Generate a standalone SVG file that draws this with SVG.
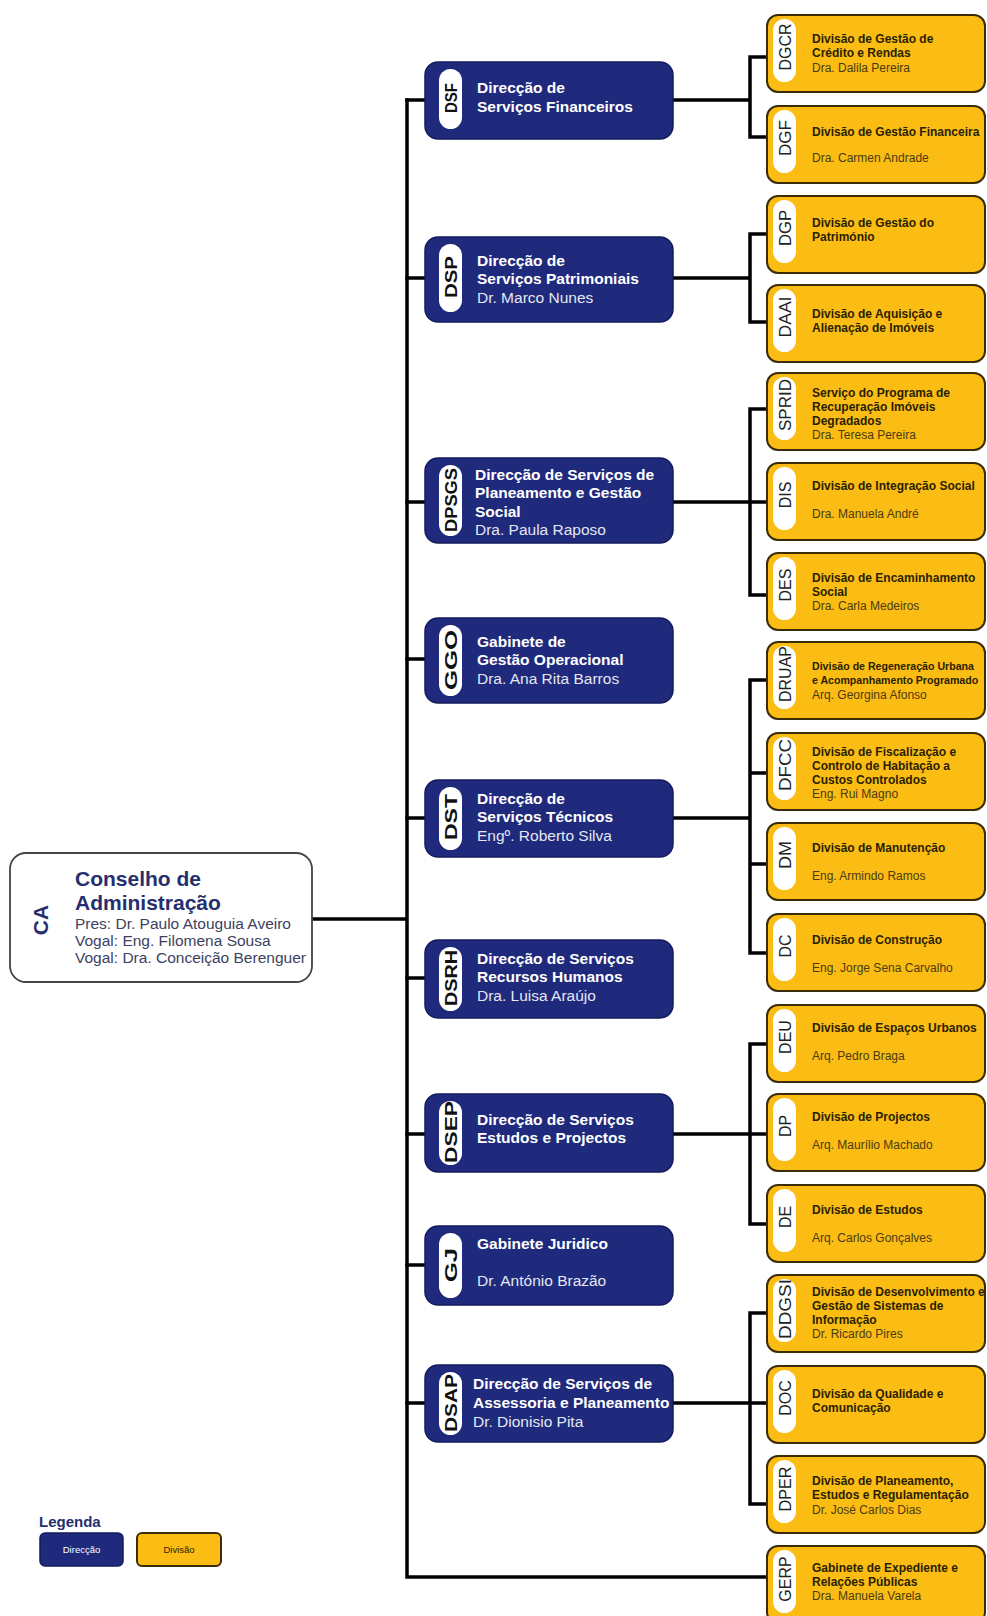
<svg xmlns="http://www.w3.org/2000/svg" width="987" height="1616" viewBox="0 0 987 1616">
<style>
.conn{stroke:#000;stroke-width:3.5;fill:none;stroke-linejoin:miter;stroke-linecap:square}
.blue{fill:#1f2a7c;stroke:#141b5c;stroke-width:1.5}
.yel{fill:#fbbc14;stroke:#3a2c08;stroke-width:2}
.pill{fill:#fff}
.bt{font-family:"Liberation Sans",Arial,sans-serif;font-weight:bold;font-size:15.5px;fill:#fff}
.bn{font-family:"Liberation Sans",Arial,sans-serif;font-size:15.5px;fill:#e4e6f2}
.bl{font-family:"Liberation Sans",Arial,sans-serif;font-weight:bold;font-size:16px;fill:#111;text-anchor:middle}
.yt{font-family:"Liberation Sans",Arial,sans-serif;font-weight:bold;font-size:12px;fill:#2a1f00}
.yn{font-family:"Liberation Sans",Arial,sans-serif;font-size:12px;fill:#4a3b10}
.yl{font-family:"Liberation Sans",Arial,sans-serif;font-size:16px;fill:#222;text-anchor:middle}
.cat{font-family:"Liberation Sans",Arial,sans-serif;font-weight:bold;font-size:21px;fill:#262f6e}
.can{font-family:"Liberation Sans",Arial,sans-serif;font-size:15.5px;fill:#3d4260}
</style>
<rect width="987" height="1616" fill="#fff"/>

<g id="connectors">
<path class="conn" d="M312 919H407M407 100V1577H767"/>
<path class="conn" d="M407 100H425M407 278H425M407 502H425M407 659H425M407 818H425M407 978H425M407 1134H425M407 1265H425M407 1403H425"/>
<path class="conn" d="M673 100H750M767 57H750V137H767"/>
<path class="conn" d="M673 278H750M767 234H750V322H767"/>
<path class="conn" d="M673 502H767M767 409H750V595H767"/>
<path class="conn" d="M673 818H750M767 680H750V953H767M750 773H767M750 864H767"/>
<path class="conn" d="M673 1134H767M767 1044H750V1224H767"/>
<path class="conn" d="M673 1403H767M767 1313H750V1504H767"/>
</g>

<g id="CA">
<rect x="10" y="853" width="302" height="129" rx="16" fill="#fff" stroke="#444" stroke-width="1.8"/>
<text class="cat" transform="translate(41,920) rotate(-90)" text-anchor="middle" dy="0.35em" style="font-size:21px">CA</text>
<text class="cat" x="75" y="886">Conselho de</text>
<text class="cat" x="75" y="910">Administração</text>
<text class="can" x="75" y="929">Pres: Dr. Paulo Atouguia Aveiro</text>
<text class="can" x="75" y="946">Vogal: Eng. Filomena Sousa</text>
<text class="can" x="75" y="963">Vogal: Dra. Conceição Berenguer</text>
</g>

<g id="DSF">
<rect class="blue" x="425" y="62" width="248" height="77" rx="13"/>
<rect class="pill" x="439" y="69" width="23" height="60" rx="11.5"/>
<text class="bl" transform="translate(451,98) rotate(-90)" dy="0.35em" textLength="30" lengthAdjust="spacingAndGlyphs">DSF</text>
<text class="bt" x="477" y="93">Direcção de</text>
<text class="bt" x="477" y="112">Serviços Financeiros</text>
</g>

<g id="DSP">
<rect class="blue" x="425" y="237" width="248" height="85" rx="13"/>
<rect class="pill" x="439" y="244" width="23" height="68" rx="11.5"/>
<text class="bl" transform="translate(451,277) rotate(-90)" dy="0.35em" textLength="42" lengthAdjust="spacingAndGlyphs">DSP</text>
<text class="bt" x="477" y="266">Direcção de</text>
<text class="bt" x="477" y="284">Serviços Patrimoniais</text>
<text class="bn" x="477" y="303">Dr. Marco Nunes</text>
</g>

<g id="DPSGS">
<rect class="blue" x="425" y="458" width="248" height="85" rx="13"/>
<rect class="pill" x="439" y="465" width="23" height="71" rx="11.5"/>
<text class="bl" transform="translate(451,500) rotate(-90)" dy="0.35em" textLength="64" lengthAdjust="spacingAndGlyphs">DPSGS</text>
<text class="bt" x="475" y="480">Direcção de Serviços de</text>
<text class="bt" x="475" y="498">Planeamento e Gestão</text>
<text class="bt" x="475" y="517">Social</text>
<text class="bn" x="475" y="535">Dra. Paula Raposo</text>
</g>

<g id="GGO">
<rect class="blue" x="425" y="618" width="248" height="85" rx="13"/>
<rect class="pill" x="439" y="625" width="23" height="71" rx="11.5"/>
<text class="bl" transform="translate(451,660) rotate(-90)" dy="0.35em" textLength="60" lengthAdjust="spacingAndGlyphs">GGO</text>
<text class="bt" x="477" y="647">Gabinete de</text>
<text class="bt" x="477" y="665">Gestão Operacional</text>
<text class="bn" x="477" y="684">Dra. Ana Rita Barros</text>
</g>

<g id="DST">
<rect class="blue" x="425" y="780" width="248" height="77" rx="13"/>
<rect class="pill" x="439" y="787" width="23" height="63" rx="11.5"/>
<text class="bl" transform="translate(451,817) rotate(-90)" dy="0.35em" textLength="46" lengthAdjust="spacingAndGlyphs">DST</text>
<text class="bt" x="477" y="804">Direcção de</text>
<text class="bt" x="477" y="822">Serviços Técnicos</text>
<text class="bn" x="477" y="841">Engº. Roberto Silva</text>
</g>

<g id="DSRH">
<rect class="blue" x="425" y="940" width="248" height="78" rx="13"/>
<rect class="pill" x="439" y="947" width="23" height="64" rx="11.5"/>
<text class="bl" transform="translate(451,978) rotate(-90)" dy="0.35em" textLength="56" lengthAdjust="spacingAndGlyphs">DSRH</text>
<text class="bt" x="477" y="964">Direcção de Serviços</text>
<text class="bt" x="477" y="982">Recursos Humanos</text>
<text class="bn" x="477" y="1001">Dra. Luisa Araújo</text>
</g>

<g id="DSEP">
<rect class="blue" x="425" y="1094" width="248" height="78" rx="13"/>
<rect class="pill" x="439" y="1101" width="23" height="64" rx="11.5"/>
<text class="bl" transform="translate(451,1132) rotate(-90)" dy="0.35em" textLength="62" lengthAdjust="spacingAndGlyphs">DSEP</text>
<text class="bt" x="477" y="1125">Direcção de Serviços</text>
<text class="bt" x="477" y="1143">Estudos e Projectos</text>
</g>

<g id="GJ">
<rect class="blue" x="425" y="1226" width="248" height="79" rx="13"/>
<rect class="pill" x="439" y="1233" width="23" height="65" rx="11.5"/>
<text class="bl" transform="translate(451,1265) rotate(-90)" dy="0.35em" textLength="34" lengthAdjust="spacingAndGlyphs">GJ</text>
<text class="bt" x="477" y="1249">Gabinete Juridico</text>
<text class="bn" x="477" y="1286">Dr. António Brazão</text>
</g>

<g id="DSAP">
<rect class="blue" x="425" y="1365" width="248" height="77" rx="13"/>
<rect class="pill" x="439" y="1372" width="23" height="63" rx="11.5"/>
<text class="bl" transform="translate(451,1403) rotate(-90)" dy="0.35em" textLength="58" lengthAdjust="spacingAndGlyphs">DSAP</text>
<text class="bt" x="473" y="1389">Direcção de Serviços de</text>
<text class="bt" x="473" y="1408">Assessoria e Planeamento</text>
<text class="bn" x="473" y="1427">Dr. Dionisio Pita</text>
</g>

<g id="DGCR">
<rect class="yel" x="767" y="15" width="218" height="77" rx="11"/>
<rect class="pill" x="773" y="19" width="23" height="63" rx="11.5"/>
<text class="yl" transform="translate(785,47) rotate(-90)" dy="0.35em">DGCR</text>
<text class="yt" x="812" y="43">Divisão de Gestão de</text>
<text class="yt" x="812" y="57">Crédito e Rendas</text>
<text class="yn" x="812" y="72">Dra. Dalila Pereira</text>
</g>

<g id="DGF">
<rect class="yel" x="767" y="106" width="218" height="77" rx="11"/>
<rect class="pill" x="773" y="110" width="23" height="63" rx="11.5"/>
<text class="yl" transform="translate(785,138) rotate(-90)" dy="0.35em" textLength="36" lengthAdjust="spacingAndGlyphs">DGF</text>
<text class="yt" x="812" y="136">Divisão de Gestão Financeira</text>
<text class="yn" x="812" y="162">Dra. Carmen Andrade</text>
</g>

<g id="DGP">
<rect class="yel" x="767" y="196" width="218" height="77" rx="11"/>
<rect class="pill" x="773" y="200" width="23" height="63" rx="11.5"/>
<text class="yl" transform="translate(785,228) rotate(-90)" dy="0.35em" textLength="36" lengthAdjust="spacingAndGlyphs">DGP</text>
<text class="yt" x="812" y="227">Divisão de Gestão do</text>
<text class="yt" x="812" y="241">Património</text>
</g>

<g id="DAAI">
<rect class="yel" x="767" y="285" width="218" height="77" rx="11"/>
<rect class="pill" x="773" y="289" width="23" height="63" rx="11.5"/>
<text class="yl" transform="translate(785,317) rotate(-90)" dy="0.35em" textLength="41" lengthAdjust="spacingAndGlyphs">DAAI</text>
<text class="yt" x="812" y="318">Divisão de Aquisição e</text>
<text class="yt" x="812" y="332">Alienação de Imóveis</text>
</g>

<g id="SPRID">
<rect class="yel" x="767" y="373" width="218" height="77" rx="11"/>
<rect class="pill" x="773" y="377" width="23" height="63" rx="11.5"/>
<text class="yl" transform="translate(785,405) rotate(-90)" dy="0.35em" textLength="52" lengthAdjust="spacingAndGlyphs">SPRID</text>
<text class="yt" x="812" y="397">Serviço do Programa de</text>
<text class="yt" x="812" y="411">Recuperação Imóveis</text>
<text class="yt" x="812" y="425">Degradados</text>
<text class="yn" x="812" y="439">Dra. Teresa Pereira</text>
</g>

<g id="DIS">
<rect class="yel" x="767" y="463" width="218" height="77" rx="11"/>
<rect class="pill" x="773" y="467" width="23" height="63" rx="11.5"/>
<text class="yl" transform="translate(785,495) rotate(-90)" dy="0.35em">DIS</text>
<text class="yt" x="812" y="490">Divisão de Integração Social</text>
<text class="yn" x="812" y="518">Dra. Manuela André</text>
</g>

<g id="DES">
<rect class="yel" x="767" y="553" width="218" height="77" rx="11"/>
<rect class="pill" x="773" y="557" width="23" height="63" rx="11.5"/>
<text class="yl" transform="translate(785,585) rotate(-90)" dy="0.35em">DES</text>
<text class="yt" x="812" y="582">Divisão de Encaminhamento</text>
<text class="yt" x="812" y="596">Social</text>
<text class="yn" x="812" y="610">Dra. Carla Medeiros</text>
</g>

<g id="DRUAP">
<rect class="yel" x="767" y="642" width="218" height="77" rx="11"/>
<rect class="pill" x="773" y="646" width="23" height="63" rx="11.5"/>
<text class="yl" transform="translate(785,674) rotate(-90)" dy="0.35em" textLength="56" lengthAdjust="spacingAndGlyphs">DRUAP</text>
<text class="yt" x="812" y="670" style="font-size:10.6px">Divisão de Regeneração Urbana</text>
<text class="yt" x="812" y="684" style="font-size:10.6px">e Acompanhamento Programado</text>
<text class="yn" x="812" y="699">Arq. Georgina Afonso</text>
</g>

<g id="DFCC">
<rect class="yel" x="767" y="733" width="218" height="77" rx="11"/>
<rect class="pill" x="773" y="737" width="23" height="63" rx="11.5"/>
<text class="yl" transform="translate(785,765) rotate(-90)" dy="0.35em" textLength="52" lengthAdjust="spacingAndGlyphs">DFCC</text>
<text class="yt" x="812" y="756">Divisão de Fiscalização e</text>
<text class="yt" x="812" y="770">Controlo de Habitação a</text>
<text class="yt" x="812" y="784">Custos Controlados</text>
<text class="yn" x="812" y="798">Eng. Rui Magno</text>
</g>

<g id="DM">
<rect class="yel" x="767" y="823" width="218" height="77" rx="11"/>
<rect class="pill" x="773" y="827" width="23" height="63" rx="11.5"/>
<text class="yl" transform="translate(785,855) rotate(-90)" dy="0.35em" textLength="28" lengthAdjust="spacingAndGlyphs">DM</text>
<text class="yt" x="812" y="852">Divisão de Manutenção</text>
<text class="yn" x="812" y="880">Eng. Armindo Ramos</text>
</g>

<g id="DC">
<rect class="yel" x="767" y="914" width="218" height="77" rx="11"/>
<rect class="pill" x="773" y="918" width="23" height="63" rx="11.5"/>
<text class="yl" transform="translate(785,946) rotate(-90)" dy="0.35em">DC</text>
<text class="yt" x="812" y="944">Divisão de Construção</text>
<text class="yn" x="812" y="972">Eng. Jorge Sena Carvalho</text>
</g>

<g id="DEU">
<rect class="yel" x="767" y="1005" width="218" height="77" rx="11"/>
<rect class="pill" x="773" y="1009" width="23" height="63" rx="11.5"/>
<text class="yl" transform="translate(785,1037) rotate(-90)" dy="0.35em">DEU</text>
<text class="yt" x="812" y="1032">Divisão de Espaços Urbanos</text>
<text class="yn" x="812" y="1060">Arq. Pedro Braga</text>
</g>

<g id="DP">
<rect class="yel" x="767" y="1094" width="218" height="77" rx="11"/>
<rect class="pill" x="773" y="1098" width="23" height="63" rx="11.5"/>
<text class="yl" transform="translate(785,1126) rotate(-90)" dy="0.35em">DP</text>
<text class="yt" x="812" y="1121">Divisão de Projectos</text>
<text class="yn" x="812" y="1149">Arq. Maurílio Machado</text>
</g>

<g id="DE">
<rect class="yel" x="767" y="1185" width="218" height="77" rx="11"/>
<rect class="pill" x="773" y="1189" width="23" height="63" rx="11.5"/>
<text class="yl" transform="translate(785,1217) rotate(-90)" dy="0.35em">DE</text>
<text class="yt" x="812" y="1214">Divisão de Estudos</text>
<text class="yn" x="812" y="1242">Arq. Carlos Gonçalves</text>
</g>

<g id="DDGSI">
<rect class="yel" x="767" y="1275" width="218" height="77" rx="11"/>
<rect class="pill" x="773" y="1279" width="23" height="63" rx="11.5"/>
<text class="yl" transform="translate(785,1309) rotate(-90)" dy="0.35em" textLength="60" lengthAdjust="spacingAndGlyphs">DDGSI</text>
<text class="yt" x="812" y="1296">Divisão de Desenvolvimento e</text>
<text class="yt" x="812" y="1310">Gestão de Sistemas de</text>
<text class="yt" x="812" y="1324">Informação</text>
<text class="yn" x="812" y="1338">Dr. Ricardo Pires</text>
</g>

<g id="DOC">
<rect class="yel" x="767" y="1366" width="218" height="77" rx="11"/>
<rect class="pill" x="773" y="1370" width="23" height="63" rx="11.5"/>
<text class="yl" transform="translate(785,1398) rotate(-90)" dy="0.35em">DOC</text>
<text class="yt" x="812" y="1398">Divisão da Qualidade e</text>
<text class="yt" x="812" y="1412">Comunicação</text>
</g>

<g id="DPER">
<rect class="yel" x="767" y="1456" width="218" height="77" rx="11"/>
<rect class="pill" x="773" y="1460" width="23" height="63" rx="11.5"/>
<text class="yl" transform="translate(785,1489) rotate(-90)" dy="0.35em" textLength="45" lengthAdjust="spacingAndGlyphs">DPER</text>
<text class="yt" x="812" y="1485">Divisão de Planeamento,</text>
<text class="yt" x="812" y="1499">Estudos e Regulamentação</text>
<text class="yn" x="812" y="1514">Dr. José Carlos Dias</text>
</g>

<g id="GERP">
<rect class="yel" x="767" y="1546" width="218" height="77" rx="11"/>
<rect class="pill" x="773" y="1550" width="23" height="63" rx="11.5"/>
<text class="yl" transform="translate(785,1579) rotate(-90)" dy="0.35em">GERP</text>
<text class="yt" x="812" y="1572">Gabinete de Expediente e</text>
<text class="yt" x="812" y="1586">Relações Públicas</text>
<text class="yn" x="812" y="1600">Dra. Manuela Varela</text>
</g>

<g id="legend">
<text x="39" y="1527" style="font-family:'Liberation Sans',Arial,sans-serif;font-weight:bold;font-size:15px;fill:#262f6e">Legenda</text>
<rect x="40" y="1533" width="83" height="33" rx="5" class="blue"/>
<text x="81.5" y="1553" text-anchor="middle" style="font-family:'Liberation Sans',Arial,sans-serif;font-size:9.5px;fill:#fff">Direcção</text>
<rect x="137" y="1533" width="84" height="33" rx="5" class="yel"/>
<text x="179" y="1553" text-anchor="middle" style="font-family:'Liberation Sans',Arial,sans-serif;font-size:9.5px;fill:#2a1f00">Divisão</text>
</g>
</svg>
